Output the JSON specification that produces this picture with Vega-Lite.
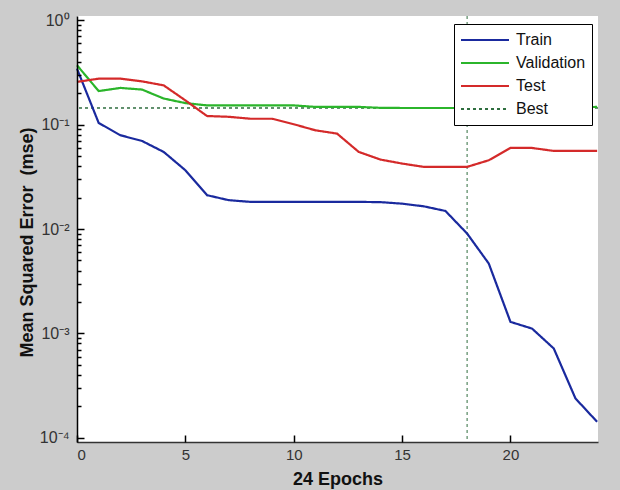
{
  "$schema": "https://vega.github.io/schema/vega-lite/v6.json",
  "width": 521,
  "height": 426,
  "autosize": {"type": "none"},
  "padding": {"left": 77, "top": 16, "right": 22, "bottom": 48},
  "background": "#cccccc",
  "view": {"fill": "white", "stroke": null},
  "config": {"font": "Liberation Sans"},
  "resolve": {"axis": {"x": "independent", "y": "independent"}},
  "layer": [
    {
      "data": {"values": [{"series": "Best", "epoch": 18}]},
      "mark": {"type": "rule", "strokeWidth": 1},
      "encoding": {
        "x": {
          "field": "epoch", "type": "quantitative",
          "axis": {
            "orient": "top", "offset": -426, "zindex": 2,
            "values": [0, 5, 10, 15, 20],
            "labels": false, "domain": false, "grid": false, "title": null,
            "tickSize": 7, "tickColor": "#000000", "tickWidth": 1.5
          }
        },
        "color": {"field": "series", "type": "nominal"},
        "strokeDash": {"field": "series", "type": "nominal"}
      }
    },
    {
      "data": {"values": [{"series": "Best", "mse": 0.1445}]},
      "mark": {"type": "rule", "strokeWidth": 1},
      "encoding": {
        "y": {
          "field": "mse", "type": "quantitative",
          "axis": {
            "orient": "right", "offset": -521, "zindex": 2,
            "values": [0.0002, 0.0003, 0.0004, 0.0005, 0.0006, 0.0007, 0.0008, 0.0009,
                       0.002, 0.003, 0.004, 0.005, 0.006, 0.007, 0.008, 0.009,
                       0.02, 0.03, 0.04, 0.05, 0.06, 0.07, 0.08, 0.09,
                       0.2, 0.3, 0.4, 0.5, 0.6, 0.7, 0.8, 0.9],
            "labels": false, "domain": false, "grid": false, "title": null,
            "tickSize": 4, "tickColor": "#000000", "tickWidth": 1.5
          }
        },
        "color": {"field": "series", "type": "nominal"},
        "strokeDash": {"field": "series", "type": "nominal"}
      }
    },
    {
      "data": {"values": [{"series": "Best", "mse": 0.1445}]},
      "mark": {"type": "rule", "strokeWidth": 1},
      "encoding": {
        "y": {
          "field": "mse", "type": "quantitative",
          "axis": {
            "orient": "right", "offset": -521, "zindex": 2,
            "values": [0.0001, 0.001, 0.01, 0.1, 1],
            "labels": false, "domain": false, "grid": false, "title": null,
            "tickSize": 7, "tickColor": "#000000", "tickWidth": 1.5
          }
        },
        "color": {"field": "series", "type": "nominal"},
        "strokeDash": {"field": "series", "type": "nominal"}
      }
    },
    {
      "data": {"values": [
        {"series": "Train", "epoch": 0, "mse": 0.344},
        {"series": "Train", "epoch": 1, "mse": 0.104},
        {"series": "Train", "epoch": 2, "mse": 0.0792},
        {"series": "Train", "epoch": 3, "mse": 0.0698},
        {"series": "Train", "epoch": 4, "mse": 0.0548},
        {"series": "Train", "epoch": 5, "mse": 0.0366},
        {"series": "Train", "epoch": 6, "mse": 0.0211},
        {"series": "Train", "epoch": 7, "mse": 0.0189},
        {"series": "Train", "epoch": 8, "mse": 0.0182},
        {"series": "Train", "epoch": 9, "mse": 0.0182},
        {"series": "Train", "epoch": 10, "mse": 0.0182},
        {"series": "Train", "epoch": 11, "mse": 0.0182},
        {"series": "Train", "epoch": 12, "mse": 0.0182},
        {"series": "Train", "epoch": 13, "mse": 0.0182},
        {"series": "Train", "epoch": 14, "mse": 0.0181},
        {"series": "Train", "epoch": 15, "mse": 0.0175},
        {"series": "Train", "epoch": 16, "mse": 0.0165},
        {"series": "Train", "epoch": 17, "mse": 0.0149},
        {"series": "Train", "epoch": 18, "mse": 0.00905},
        {"series": "Train", "epoch": 19, "mse": 0.00467},
        {"series": "Train", "epoch": 20, "mse": 0.00129},
        {"series": "Train", "epoch": 21, "mse": 0.00111},
        {"series": "Train", "epoch": 22, "mse": 0.000716},
        {"series": "Train", "epoch": 23, "mse": 0.000238},
        {"series": "Train", "epoch": 24, "mse": 0.000142},
        {"series": "Validation", "epoch": 0, "mse": 0.371},
        {"series": "Validation", "epoch": 1, "mse": 0.21},
        {"series": "Validation", "epoch": 2, "mse": 0.225},
        {"series": "Validation", "epoch": 3, "mse": 0.217},
        {"series": "Validation", "epoch": 4, "mse": 0.178},
        {"series": "Validation", "epoch": 5, "mse": 0.161},
        {"series": "Validation", "epoch": 6, "mse": 0.153},
        {"series": "Validation", "epoch": 7, "mse": 0.153},
        {"series": "Validation", "epoch": 8, "mse": 0.153},
        {"series": "Validation", "epoch": 9, "mse": 0.153},
        {"series": "Validation", "epoch": 10, "mse": 0.153},
        {"series": "Validation", "epoch": 11, "mse": 0.148},
        {"series": "Validation", "epoch": 12, "mse": 0.148},
        {"series": "Validation", "epoch": 13, "mse": 0.148},
        {"series": "Validation", "epoch": 14, "mse": 0.145},
        {"series": "Validation", "epoch": 15, "mse": 0.1445},
        {"series": "Validation", "epoch": 16, "mse": 0.1445},
        {"series": "Validation", "epoch": 17, "mse": 0.1445},
        {"series": "Validation", "epoch": 18, "mse": 0.1445},
        {"series": "Validation", "epoch": 19, "mse": 0.146},
        {"series": "Validation", "epoch": 20, "mse": 0.146},
        {"series": "Validation", "epoch": 21, "mse": 0.146},
        {"series": "Validation", "epoch": 22, "mse": 0.146},
        {"series": "Validation", "epoch": 23, "mse": 0.146},
        {"series": "Validation", "epoch": 24, "mse": 0.148},
        {"series": "Test", "epoch": 0, "mse": 0.257},
        {"series": "Test", "epoch": 1, "mse": 0.276},
        {"series": "Test", "epoch": 2, "mse": 0.276},
        {"series": "Test", "epoch": 3, "mse": 0.26},
        {"series": "Test", "epoch": 4, "mse": 0.238},
        {"series": "Test", "epoch": 5, "mse": 0.171},
        {"series": "Test", "epoch": 6, "mse": 0.121},
        {"series": "Test", "epoch": 7, "mse": 0.119},
        {"series": "Test", "epoch": 8, "mse": 0.114},
        {"series": "Test", "epoch": 9, "mse": 0.114},
        {"series": "Test", "epoch": 10, "mse": 0.101},
        {"series": "Test", "epoch": 11, "mse": 0.0883},
        {"series": "Test", "epoch": 12, "mse": 0.0821},
        {"series": "Test", "epoch": 13, "mse": 0.0548},
        {"series": "Test", "epoch": 14, "mse": 0.0463},
        {"series": "Test", "epoch": 15, "mse": 0.0424},
        {"series": "Test", "epoch": 16, "mse": 0.0394},
        {"series": "Test", "epoch": 17, "mse": 0.0394},
        {"series": "Test", "epoch": 18, "mse": 0.0394},
        {"series": "Test", "epoch": 19, "mse": 0.0456},
        {"series": "Test", "epoch": 20, "mse": 0.0598},
        {"series": "Test", "epoch": 21, "mse": 0.0598},
        {"series": "Test", "epoch": 22, "mse": 0.056},
        {"series": "Test", "epoch": 23, "mse": 0.056},
        {"series": "Test", "epoch": 24, "mse": 0.056}
      ]},
      "mark": {"type": "line", "strokeWidth": 2.2},
      "encoding": {
        "x": {
          "field": "epoch", "type": "quantitative",
          "scale": {"domain": [0, 24.04], "nice": false, "zero": false},
          "axis": {
            "zindex": 1,
            "values": [0, 5, 10, 15, 20],
            "title": "24 Epochs",
            "titleFontSize": 18, "titleFontWeight": "bold", "titleColor": "#111111",
            "titleY": 37, "titleBaseline": "middle",
            "labelFontSize": 15, "labelColor": "#333333", "labelPadding": 5,
            "ticks": false,
            "domainColor": "#333333", "domainWidth": 1.5,
            "grid": false
          }
        },
        "y": {
          "field": "mse", "type": "quantitative",
          "scale": {"type": "log", "domain": [0.000091, 1.1], "nice": false},
          "axis": {
            "zindex": 1,
            "values": [0.0001, 0.001, 0.01, 0.1, 1],
            "labelExpr": "datum.value == 1 ? '10⁰' : datum.value == 0.1 ? '10⁻¹' : datum.value == 0.01 ? '10⁻²' : datum.value == 0.001 ? '10⁻³' : datum.value == 0.0001 ? '10⁻⁴' : ''",
            "labelFontSize": 16, "labelColor": "#333333", "labelPadding": 8,
            "ticks": false,
            "domainColor": "#000000", "domainWidth": 1.5,
            "grid": false,
            "title": "Mean Squared Error \u00a0(mse)",
            "titleFontSize": 18, "titleFontWeight": "bold", "titleColor": "#111111",
            "titleX": -50, "titleY": 226, "titleAngle": 270,
            "titleAlign": "center", "titleBaseline": "middle"
          }
        },
        "color": {
          "field": "series", "type": "nominal",
          "scale": {"domain": ["Train", "Validation", "Test", "Best"], "range": ["#1a2a9e", "#2bb52b", "#d42a2a", "#2f6e3f"]},
          "legend": {
            "title": null, "orient": "none", "legendX": 377, "legendY": 8,
            "strokeColor": "#000000", "fillColor": "#ffffff", "padding": 6, "cornerRadius": 0,
            "symbolType": "stroke", "symbolSize": 2304, "symbolStrokeWidth": 2,
            "labelFontSize": 16, "labelColor": "#111111", "labelOffset": 6,
            "clipHeight": 20, "rowPadding": 3
          }
        },
        "strokeDash": {
          "field": "series", "type": "nominal",
          "scale": {"domain": ["Train", "Validation", "Test", "Best"], "range": [[1, 0], [1, 0], [1, 0], [3, 3]]},
          "legend": {
            "title": null, "orient": "none", "legendX": 377, "legendY": 8,
            "strokeColor": "#000000", "fillColor": "#ffffff", "padding": 6, "cornerRadius": 0,
            "symbolType": "stroke", "symbolSize": 2304, "symbolStrokeWidth": 2,
            "labelFontSize": 16, "labelColor": "#111111", "labelOffset": 6,
            "clipHeight": 20, "rowPadding": 3
          }
        }
      }
    }
  ]
}
